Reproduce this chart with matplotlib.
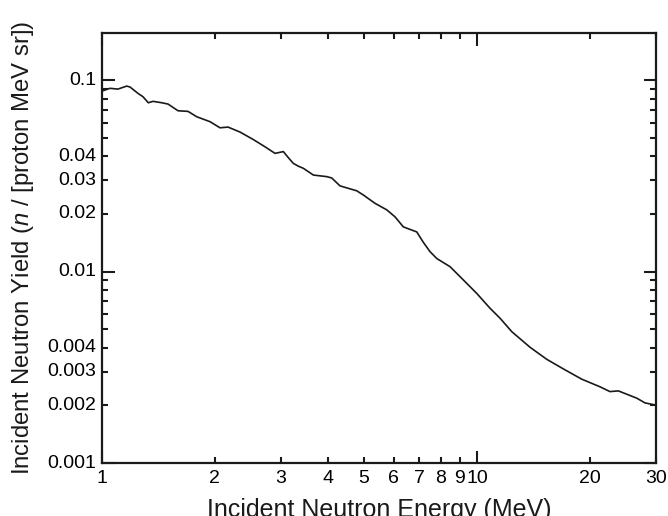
import numpy as np
import matplotlib
matplotlib.use("Agg")
import matplotlib.pyplot as plt
from matplotlib.ticker import FixedLocator, NullFormatter, LogLocator

# incident neutron energy (MeV) and yield (n / [proton MeV sr])
energy = [1.00, 1.050, 1.103, 1.164, 1.188, 1.247, 1.286, 1.329, 1.368, 1.443,
          1.500, 1.595, 1.696, 1.789, 1.941, 2.064, 2.168, 2.333, 2.527, 2.721,
          2.893, 3.045, 3.140, 3.237, 3.338, 3.442, 3.661, 3.974, 4.098, 4.312,
          4.777, 4.975, 5.346, 5.743, 6.044, 6.361, 6.907, 7.192, 7.492, 7.806,
          8.472, 9.105, 9.98, 10.83, 11.52, 12.38, 13.85, 15.34, 16.99, 19.02,
          21.28, 22.62, 23.82, 26.67, 28.05, 29.84]
yield_ = [0.0876, 0.0905, 0.0897, 0.0930, 0.0919, 0.0852, 0.0818, 0.0761, 0.0774, 0.0761,
          0.0749, 0.0691, 0.0686, 0.0643, 0.0606, 0.0563, 0.0568, 0.0535, 0.0490, 0.0448,
          0.0414, 0.0423, 0.0393, 0.0367, 0.0355, 0.0346, 0.0319, 0.0313, 0.0308, 0.0280,
          0.0264, 0.0251, 0.0227, 0.0210, 0.0193, 0.0171, 0.0161, 0.0142, 0.0127, 0.0117,
          0.0106, 0.00921, 0.00769, 0.00643, 0.00570, 0.00485, 0.00402, 0.00348, 0.00310, 0.00274,
          0.00250, 0.00236, 0.00238, 0.00218, 0.00206, 0.00201]

xticks = [1, 2, 3, 4, 5, 6, 7, 8, 9, 10, 20, 30]
xticklabels = ["1", "2", "3", "4", "5", "6", "7", "8", "9", "10", "20", "30"]
yticks = [0.001, 0.002, 0.003, 0.004, 0.01, 0.02, 0.03, 0.04, 0.1]
yticklabels = ["0.001", "0.002", "0.003", "0.004", "0.01", "0.02", "0.03", "0.04", "0.1"]

plt.rcParams["font.family"] = ["Liberation Sans", "DejaVu Sans"]
plt.rcParams["mathtext.fontset"] = "custom"
plt.rcParams["mathtext.it"] = "Liberation Sans:italic"
plt.rcParams["mathtext.rm"] = "Liberation Sans"

fig = plt.figure(figsize=(6.68, 5.16), dpi=100)
ax = fig.add_axes([0.1527, 0.1027, 0.8293, 0.8333])

ax.plot(energy, yield_, color="#1a1a1a", lw=1.2)

ax.set_xscale("log")
ax.set_yscale("log")
ax.set_xlim(1, 30)
ax.set_ylim(0.001, 0.176)

# long ticks at decades only, labels placed by hand on chosen values
ax.xaxis.set_major_locator(FixedLocator([1, 10]))
ax.xaxis.set_minor_locator(LogLocator(base=10, subs=np.arange(2, 10)))
ax.xaxis.set_major_formatter(NullFormatter())
ax.xaxis.set_minor_formatter(NullFormatter())
ax.yaxis.set_major_locator(FixedLocator([0.001, 0.01, 0.1]))
ax.yaxis.set_minor_locator(LogLocator(base=10, subs=np.arange(2, 10)))
ax.yaxis.set_major_formatter(NullFormatter())
ax.yaxis.set_minor_formatter(NullFormatter())

for x, lab in zip(xticks, xticklabels):
    ax.annotate(lab, (x, 0), xycoords=("data", "axes fraction"), xytext=(0, -5),
                textcoords="offset points", ha="center", va="top", fontsize=14)
for y, lab in zip(yticks, yticklabels):
    ax.annotate(lab, (0, y), xycoords=("axes fraction", "data"), xytext=(-4, 0),
                textcoords="offset points", ha="right", va="center", fontsize=14)

ax.tick_params(which="both", direction="in", top=True, right=True, color="#1a1a1a")
ax.tick_params(which="major", length=9, width=1.5)
ax.tick_params(which="minor", length=4.5, width=1.5)
for s in ax.spines.values():
    s.set_linewidth(1.6)
    s.set_color("#1a1a1a")

ax.set_xlabel("Incident Neutron Energy (MeV)", fontsize=18, labelpad=21.5, color="#1a1a1a")
ax.set_ylabel(r"Incident Neutron Yield ($n$ / [proton MeV sr])", fontsize=17.2,
              labelpad=44, color="#1a1a1a")

fig.savefig("out.png", dpi=100)
